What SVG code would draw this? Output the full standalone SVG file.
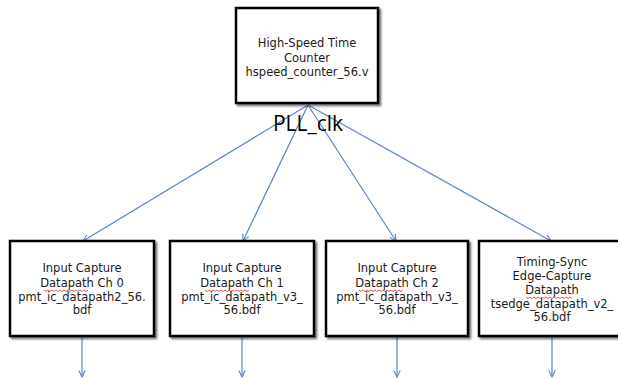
<svg xmlns="http://www.w3.org/2000/svg" width="618" height="379" viewBox="0 0 618 379">
  <defs>
    <marker id="arr" viewBox="0 0 10 10" refX="9" refY="5" markerWidth="8" markerHeight="8" markerUnits="userSpaceOnUse" orient="auto">
      <path d="M1,1 L9,5 L1,9" fill="none" stroke="#5b86c2" stroke-width="1.4"/>
    </marker>
    <filter id="shadow" x="-10%" y="-10%" width="130%" height="130%">
      <feGaussianBlur in="SourceAlpha" stdDeviation="1.2"/>
      <feOffset dx="2" dy="2" result="b"/>
      <feComponentTransfer><feFuncA type="linear" slope="0.55"/></feComponentTransfer>
      <feMerge><feMergeNode/><feMergeNode in="SourceGraphic"/></feMerge>
    </filter>
  </defs>
  <style>
    .box { fill: #ffffff; stroke: #000000; stroke-width: 2.5; filter: url(#shadow); }
    .lbl { font-family: "DejaVu Sans", "Liberation Sans", sans-serif; font-size: 11.5px; fill: #1a1a1a; text-anchor: middle; }
    .wire { stroke: #5b86c2; stroke-width: 1.2; fill: none; marker-end: url(#arr); }
    .squig { stroke: #e03030; stroke-width: 0.8; fill: none; }
    .clk { font-family: "Open Sans", "Liberation Sans", sans-serif; font-size: 21px; fill: #000; text-anchor: middle; }
  </style>

  <rect width="618" height="379" fill="#ffffff"/>

  <!-- clock fan-out and channel outputs -->
  <g id="connectors">
    <line class="wire" x1="308" y1="105" x2="83" y2="241"/>
    <line class="wire" x1="308" y1="105" x2="243" y2="241"/>
    <line class="wire" x1="308" y1="105" x2="396" y2="241"/>
    <line class="wire" x1="308" y1="105" x2="551" y2="241"/>
    <line class="wire" x1="82" y1="337" x2="82" y2="377"/>
    <line class="wire" x1="242" y1="337" x2="242" y2="377"/>
    <line class="wire" x1="397" y1="337" x2="397" y2="377"/>
    <line class="wire" x1="552" y1="337" x2="552" y2="377"/>
    <text class="clk" x="308" y="131">PLL_clk</text>
  </g>

  <g id="counter">
    <rect class="box" x="236" y="8" width="142" height="95"/>
    <text class="lbl" x="307" y="47">High-Speed Time</text>
    <text class="lbl" x="307" y="62">Counter</text>
    <text class="lbl" x="307" y="76">hspeed_counter_56.v</text>
  </g>

  <g id="ch0">
    <rect class="box" x="10" y="241" width="144" height="95"/>
    <text class="lbl" x="82" y="272">Input Capture</text>
    <text class="lbl" x="82" y="287">Datapath Ch 0</text>
    <path class="squig" d="M44,290 l2,1.5 l2,-1.5 l2,1.5 l2,-1.5 l2,1.5 l2,-1.5 l2,1.5 l2,-1.5 l2,1.5 l2,-1.5 l2,1.5 l2,-1.5 l2,1.5 l2,-1.5 l2,1.5 l2,-1.5 l2,1.5 l2,-1.5 l2,1.5 l2,-1.5 l2,1.5 l2,-1.5"/>
    <text class="lbl" x="82" y="301">pmt_ic_datapath2_56.</text>
    <text class="lbl" x="82" y="314">bdf</text>
  </g>

  <g id="ch1">
    <rect class="box" x="170" y="241" width="144" height="95"/>
    <text class="lbl" x="242" y="272">Input Capture</text>
    <text class="lbl" x="242" y="287">Datapath Ch 1</text>
    <path class="squig" d="M205,290 l2,1.5 l2,-1.5 l2,1.5 l2,-1.5 l2,1.5 l2,-1.5 l2,1.5 l2,-1.5 l2,1.5 l2,-1.5 l2,1.5 l2,-1.5 l2,1.5 l2,-1.5 l2,1.5 l2,-1.5 l2,1.5 l2,-1.5 l2,1.5 l2,-1.5 l2,1.5 l2,-1.5"/>
    <text class="lbl" x="242" y="301">pmt_ic_datapath_v3_</text>
    <text class="lbl" x="242" y="314">56.bdf</text>
  </g>

  <g id="ch2">
    <rect class="box" x="326" y="241" width="142" height="95"/>
    <text class="lbl" x="397" y="272">Input Capture</text>
    <text class="lbl" x="397" y="287">Datapath Ch 2</text>
    <path class="squig" d="M359,290 l2,1.5 l2,-1.5 l2,1.5 l2,-1.5 l2,1.5 l2,-1.5 l2,1.5 l2,-1.5 l2,1.5 l2,-1.5 l2,1.5 l2,-1.5 l2,1.5 l2,-1.5 l2,1.5 l2,-1.5 l2,1.5 l2,-1.5 l2,1.5 l2,-1.5 l2,1.5 l2,-1.5"/>
    <text class="lbl" x="397" y="301">pmt_ic_datapath_v3_</text>
    <text class="lbl" x="397" y="314">56.bdf</text>
  </g>

  <g id="tsedge">
    <rect class="box" x="479" y="241" width="146" height="95"/>
    <text class="lbl" x="552" y="266">Timing-Sync</text>
    <text class="lbl" x="552" y="280">Edge-Capture</text>
    <text class="lbl" x="552" y="294">Datapath</text>
    <path class="squig" d="M526,297 l2,1.5 l2,-1.5 l2,1.5 l2,-1.5 l2,1.5 l2,-1.5 l2,1.5 l2,-1.5 l2,1.5 l2,-1.5 l2,1.5 l2,-1.5 l2,1.5 l2,-1.5 l2,1.5 l2,-1.5 l2,1.5 l2,-1.5 l2,1.5 l2,-1.5 l2,1.5 l2,-1.5 l2,1.5"/>
    <text class="lbl" x="552" y="308">tsedge_datapath_v2_</text>
    <text class="lbl" x="552" y="321">56.bdf</text>
  </g>
</svg>
